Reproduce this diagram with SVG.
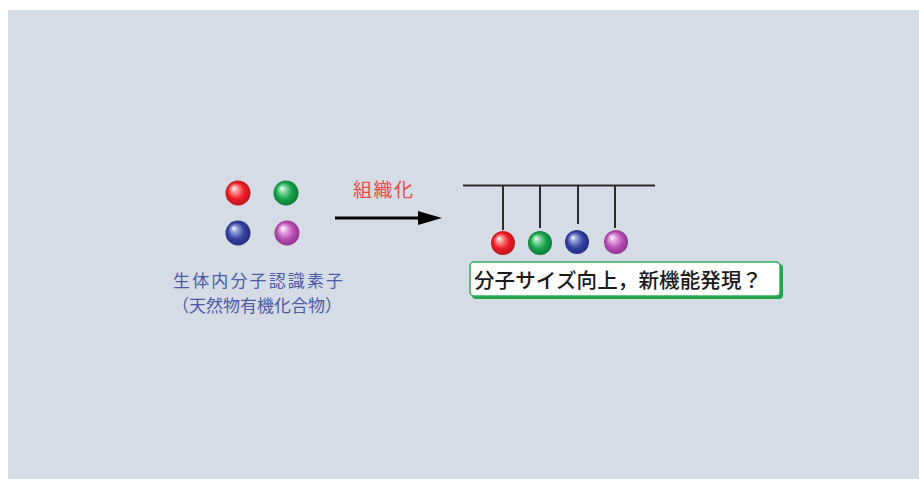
<svg xmlns="http://www.w3.org/2000/svg" width="919" height="479" viewBox="0 0 919 479">
<style>
.jp{font-family:"Noto Sans CJK JP","Noto Sans CJK SC",sans-serif}
.blue{fill:#4b5aa6;font-size:17px}
.red{fill:#ec4a43;font-size:19px}
.blk{fill:#1a1a1a;font-size:20.5px;font-weight:500}
.ln{stroke:#2b2b2b;stroke-width:2;fill:none}
</style>
<defs>
<radialGradient id="gR" cx="0.5" cy="0.5" r="0.55" fx="0.32" fy="0.3"><stop offset="0" stop-color="#ffffff"/><stop offset="0.22" stop-color="#ff9a9a"/><stop offset="0.6" stop-color="#ee1c24"/><stop offset="1" stop-color="#b3121a"/></radialGradient>
<radialGradient id="gG" cx="0.5" cy="0.5" r="0.55" fx="0.32" fy="0.3"><stop offset="0" stop-color="#ffffff"/><stop offset="0.22" stop-color="#8fdca8"/><stop offset="0.6" stop-color="#16a34a"/><stop offset="1" stop-color="#0b7434"/></radialGradient>
<radialGradient id="gB" cx="0.5" cy="0.5" r="0.55" fx="0.32" fy="0.3"><stop offset="0" stop-color="#ffffff"/><stop offset="0.22" stop-color="#9aa3dc"/><stop offset="0.6" stop-color="#3442a0"/><stop offset="1" stop-color="#1f2a78"/></radialGradient>
<radialGradient id="gP" cx="0.5" cy="0.5" r="0.55" fx="0.32" fy="0.3"><stop offset="0" stop-color="#ffffff"/><stop offset="0.22" stop-color="#eab0e6"/><stop offset="0.6" stop-color="#b84fb4"/><stop offset="1" stop-color="#8a2f88"/></radialGradient>
<marker id="ah" markerWidth="24" markerHeight="14" refX="0" refY="7" orient="auto" markerUnits="userSpaceOnUse"><path d="M0,0 L24,7 L0,14 Z" fill="#000"/></marker>
</defs>
<rect x="0" y="0" width="919" height="479" fill="#ffffff"/>
<rect x="8" y="10" width="911" height="469" fill="#d6dce6"/>

<g id="source-molecules">
<circle cx="238" cy="193" r="12.5" fill="url(#gR)"/>
<circle cx="286" cy="193" r="12.5" fill="url(#gG)"/>
<circle cx="238" cy="233" r="12.5" fill="url(#gB)"/>
<circle cx="287" cy="233" r="12.5" fill="url(#gP)"/>
</g>

<g id="source-label" class="jp">
<text class="blue" x="173" y="287" textLength="170" lengthAdjust="spacing">生体内分子認識素子</text>
<text class="blue" x="172" y="312" textLength="170" lengthAdjust="spacingAndGlyphs">（天然物有機化合物）</text>
</g>

<g id="arrow-label" class="jp">
<text class="red" x="353" y="197" textLength="60" lengthAdjust="spacing">組織化</text>
</g>

<g id="connectors">
<line x1="335" y1="218" x2="418" y2="218" stroke="#000" stroke-width="3" marker-end="url(#ah)"/>
<line class="ln" x1="463" y1="185.5" x2="655" y2="185.5"/>
<line class="ln" x1="503" y1="185.5" x2="503" y2="230"/>
<line class="ln" x1="540" y1="185.5" x2="540" y2="228"/>
<line class="ln" x1="578" y1="185.5" x2="578" y2="224"/>
<line class="ln" x1="615" y1="185.5" x2="615" y2="228"/>
</g>

<g id="organized-molecules">
<circle cx="503" cy="243" r="12" fill="url(#gR)"/>
<circle cx="540" cy="243" r="12" fill="url(#gG)"/>
<circle cx="577" cy="242" r="12" fill="url(#gB)"/>
<circle cx="616" cy="242" r="12" fill="url(#gP)"/>
</g>

<g id="result-box">
<rect x="472" y="264" width="311" height="35" rx="4" fill="#22a24a"/>
<rect x="470" y="262" width="310" height="34" rx="4" fill="#ffffff" stroke="#34ad5a" stroke-width="1.5"/>
<text class="jp blk" x="474" y="288" textLength="288" lengthAdjust="spacing">分子サイズ向上，新機能発現？</text>
</g>
</svg>
